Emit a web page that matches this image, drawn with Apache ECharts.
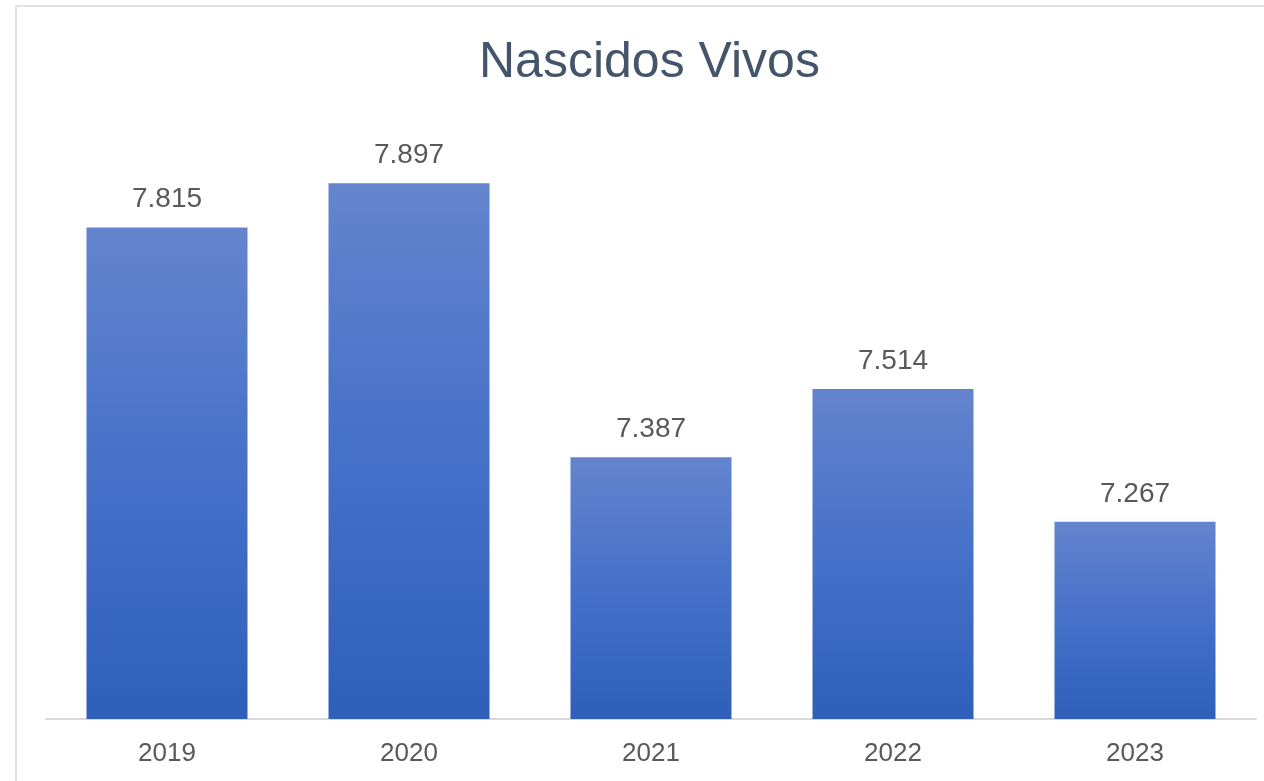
<!DOCTYPE html>
<html>
<head>
<meta charset="utf-8">
<script src="https://cdn.jsdelivr.net/npm/echarts@6/dist/echarts.min.js"></script>
<style>
html,body{margin:0;padding:0;background:#fff;}
#frame{position:absolute;left:15px;top:5px;width:1249px;height:776px;border-left:2px solid #e2e2e8;border-top:2px solid #e2e2e8;}
#chart{position:absolute;left:0;top:0;width:1264px;height:781px;}
</style>
</head>
<body>
<div id="frame"></div>
<div id="chart"></div>
<script>
const titleText = 'Nascidos Vivos';
const categories = ['2019', '2020', '2021', '2022', '2023'];
const values = [7815, 7897, 7387, 7514, 7267];

function fmt(v){ return String(v).replace(/\B(?=(\d{3})+(?!\d))/g, '.'); }

const chart = echarts.init(document.getElementById('chart'));
chart.setOption({
  backgroundColor: 'transparent',
  animation: false,
  title: {
    text: titleText,
    left: 474,
    top: 33,
    textStyle: { fontFamily: 'Liberation Sans, Arial, sans-serif', fontSize: 50, fontWeight: 'normal', color: '#44546a' }
  },
  grid: { left: 46, right: 8, top: 128, bottom: 62 },
  xAxis: {
    type: 'category',
    data: categories,
    axisLine: { lineStyle: { color: '#d9d9d9', width: 2 } },
    axisTick: { show: false },
    axisLabel: { color: '#595959', fontSize: 26, margin: 22, fontFamily: 'Liberation Sans, Arial, sans-serif' }
  },
  yAxis: {
    type: 'value',
    min: 6900,
    max: 8000,
    show: false,
    splitLine: { show: false }
  },
  series: [{
    type: 'bar',
    data: values,
    barWidth: 161,
    itemStyle: {
      color: new echarts.graphic.LinearGradient(0, 0, 0, 1, [
        { offset: 0, color: '#6484cd' },
        { offset: 0.5, color: '#4571c9' },
        { offset: 1, color: '#2f5fba' }
      ])
    },
    label: {
      show: true,
      position: 'top',
      distance: 14,
      fontSize: 28,
      color: '#595959',
      fontFamily: 'Liberation Sans, Arial, sans-serif',
      formatter: p => fmt(p.value)
    }
  }]
});
</script>
</body>
</html>
